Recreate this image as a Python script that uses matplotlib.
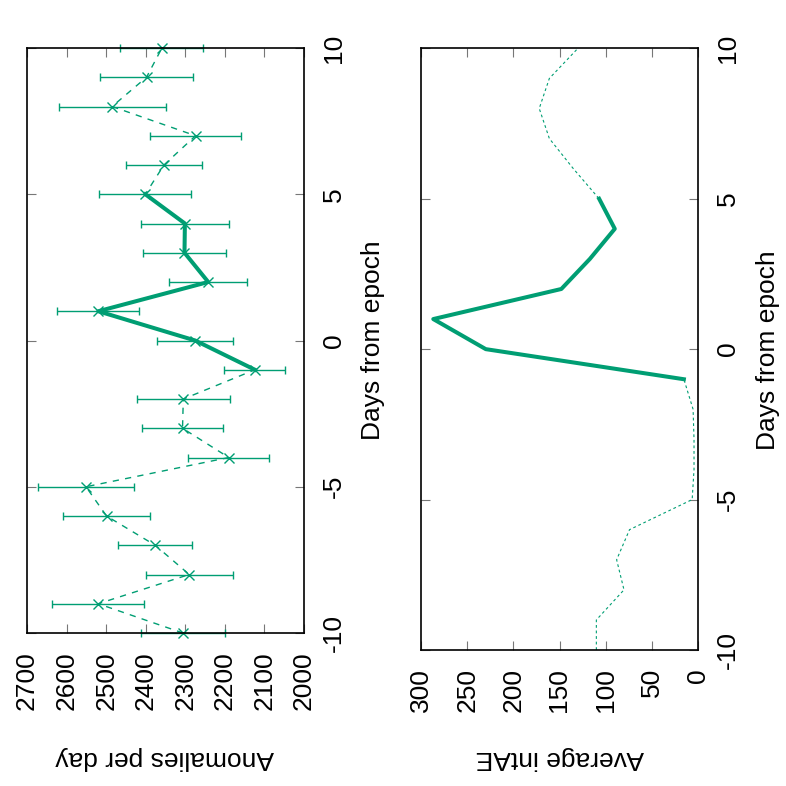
import numpy as np
import matplotlib
matplotlib.use("Agg")
import matplotlib.pyplot as plt

plt.rcParams['font.family'] = ['Liberation Sans', 'DejaVu Sans']
plt.rcParams['axes.unicode_minus'] = False

# data
days = np.arange(-10, 11)
anomalies = [2306, 2520, 2290, 2376, 2499, 2551, 2190, 2307, 2305, 2124, 2275,
             2520, 2242, 2302, 2301, 2401, 2354, 2274, 2485, 2398, 2359]
anom_err = [106, 116, 110, 94, 109, 121, 102, 102, 118, 77, 96,
            104, 98, 106, 112, 116, 97, 115, 135, 117, 105]
intae = [110, 110, 80, 88, 74, 6, 4, 4, 5, 15, 230,
         287, 148, 117, 90, 107, 135, 161, 172, 161, 130]
anom_ticks = [2700, 2600, 2500, 2400, 2300, 2200, 2100, 2000]
intae_ticks = [300, 250, 200, 150, 100, 50, 0]
day_ticks = [-10, -5, 0, 5, 10]

green = '#009e73'
W = 786.0
fs = 19

fig = plt.figure(figsize=(7.86, 7.86), dpi=100)

def px(x0, y0, x1, y1):
    # pixel box -> figure fraction rect
    return [x0 / W, 1 - y1 / W, (x1 - x0) / W, (y1 - y0) / W]

ax1 = fig.add_axes(px(27, 48, 304, 633))
ax2 = fig.add_axes(px(421.3, 48.3, 697.7, 650))

# the main window: days -1 .. 5
sel = (days >= -1) & (days <= 5)

ax1.plot(anomalies, days, color=green, lw=1.0, ls=(0, (4.5, 4.5)), clip_on=False)
ax1.errorbar(anomalies, days, xerr=anom_err, fmt='x', color=green, ms=7, mew=1.0,
             elinewidth=1.0, capsize=3, capthick=1.0, clip_on=False)
ax1.plot(np.array(anomalies)[sel], days[sel], color=green, lw=2.9, clip_on=False)
ax1.set_xlim(2700, 2000)
ax1.set_xticks(anom_ticks)

ax2.plot(intae, days, color=green, lw=0.8, ls=(0, (2.5, 2.5)), clip_on=False)
ax2.plot(np.array(intae)[sel], days[sel], color=green, lw=2.9, clip_on=False)
ax2.set_xlim(300, 0)
ax2.set_xticks(intae_ticks)

for ax in (ax1, ax2):
    ax.set_ylim(-10, 10)
    ax.set_yticks(day_ticks)
    ax.yaxis.tick_right()
    ax.tick_params(direction='in', length=6.5, width=0.8, color='#777777',
                   top=True, bottom=True, left=True, right=True,
                   labelleft=False, labelright=True, labelsize=fs, pad=13)
    for lab in ax.get_xticklabels():
        lab.set_rotation(90)
    for lab in ax.get_yticklabels():
        lab.set_rotation(90)
        lab.set_va('center')
    for s in ax.spines.values():
        s.set_linewidth(1.2)

fig.text(165 / W, 1 - 758 / W, 'Anomalies per day', rotation=180, fontsize=fs,
         ha='center', va='center')
fig.text(560 / W, 1 - 758 / W, 'Average intAE', rotation=180, fontsize=fs,
         ha='center', va='center')
fig.text(373 / W, 1 - 340 / W, 'Days from epoch', rotation=90, fontsize=fs,
         ha='center', va='center')
fig.text(768 / W, 1 - 350 / W, 'Days from epoch', rotation=90, fontsize=fs,
         ha='center', va='center')

fig.savefig('out.png', dpi=100)
